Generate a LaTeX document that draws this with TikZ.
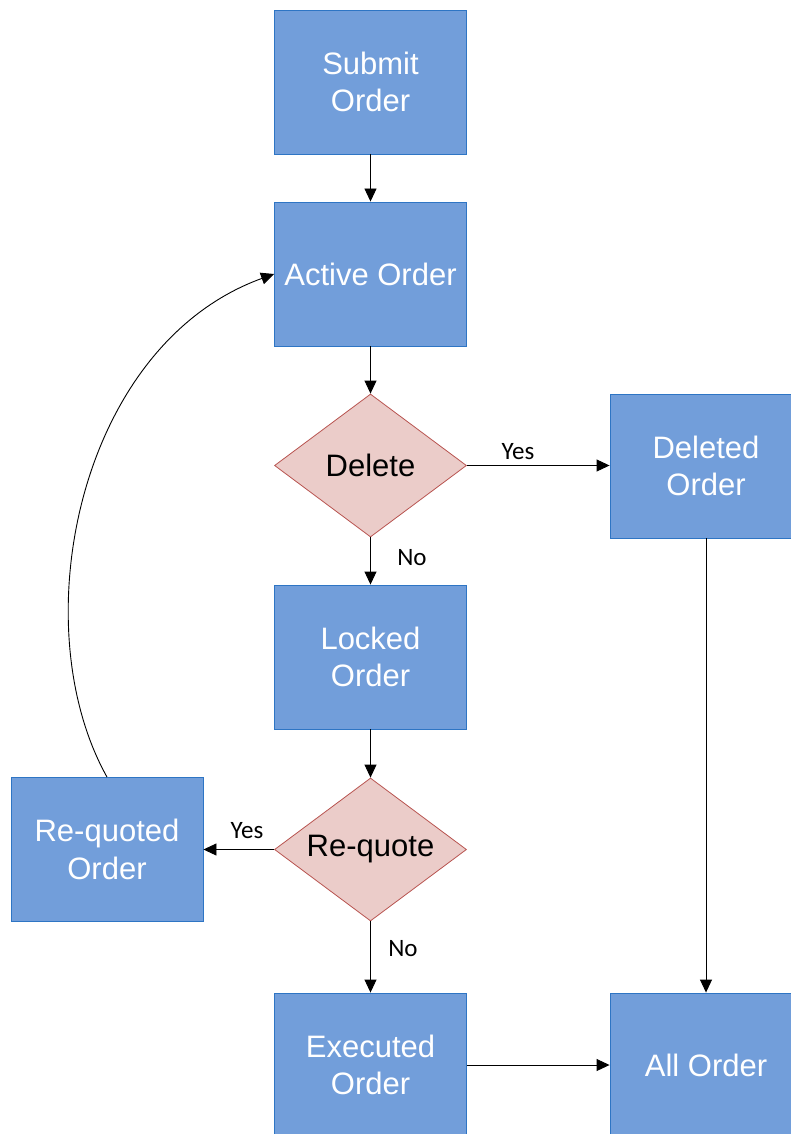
\documentclass[tikz,border=0pt]{standalone}
\usepackage{fontspec}
\setmainfont{Liberation Sans}
\newfontfamily\lblfont{Carlito}
\usetikzlibrary{shapes.geometric,arrows.meta}
\definecolor{boxfill}{RGB}{114,158,218}
\definecolor{boxline}{RGB}{46,117,196}
\definecolor{dfill}{RGB}{235,204,201}
\definecolor{dline}{RGB}{184,84,80}
\begin{document}
\begin{tikzpicture}[x=1pt,y=-1pt,
  boxnode/.style={draw=boxline,fill=boxfill,line width=0.9pt,minimum width=192pt,minimum height=144pt,
    inner sep=0pt,align=center,text=white,font=\fontsize{31}{37.5}\selectfont},
  decnode/.style={diamond,draw=dline,fill=dfill,line width=0.8pt,minimum width=192pt,minimum height=143pt,
    inner sep=0pt,aspect=1.34,align=center,text=black,font=\fontsize{31}{37.5}\selectfont},
  conn/.style={line width=0.9pt,-{Triangle[length=13pt,width=12pt]}},
  lbl/.style={font=\lblfont\fontsize{25}{28}\selectfont,inner sep=0pt}]
\useasboundingbox (0,0) rectangle (791,1134);
\node[boxnode] (submit) at (370.5,82) {Submit\\Order};
\node[boxnode] (active) at (370.5,274) {Active Order};
\node[decnode] (delete) at (370.5,465.5) {Delete};
\node[boxnode] (deleted) at (706,466) {Deleted\\Order};
\node[boxnode] (locked) at (370.5,657) {Locked\\Order};
\node[decnode] (requote) at (370.5,849.5) {Re-quote};
\node[boxnode] (requoted) at (107,849.5) {Re-quoted\\Order};
\node[boxnode] (executed) at (370.5,1065) {Executed\\Order};
\node[boxnode] (all) at (706,1065) {All Order};
\draw[conn] (submit) -- (active);
\draw[conn] (active) -- (delete.north);
\draw[conn] (delete.east) -- (deleted.west |- delete.east);
\draw[conn] (delete.south) -- (locked.north);
\draw[conn] (deleted) -- (all);
\draw[conn] (locked) -- (requote.north);
\draw[conn] (requote.west) -- (requoted.east |- requote.west);
\draw[conn] (requote.south) -- (executed.north);
\draw[conn] (executed) -- (all);
\draw[conn] (requoted.north) .. controls (22,625) and (78,345) .. (active.west);
\node[lbl] (l1) at (518,452) {Yes};
\node[lbl] (l2) at (412,558) {No};
\node[lbl] (l3) at (247,831) {Yes};
\node[lbl] (l4) at (403,949) {No};
\end{tikzpicture}
\end{document}
